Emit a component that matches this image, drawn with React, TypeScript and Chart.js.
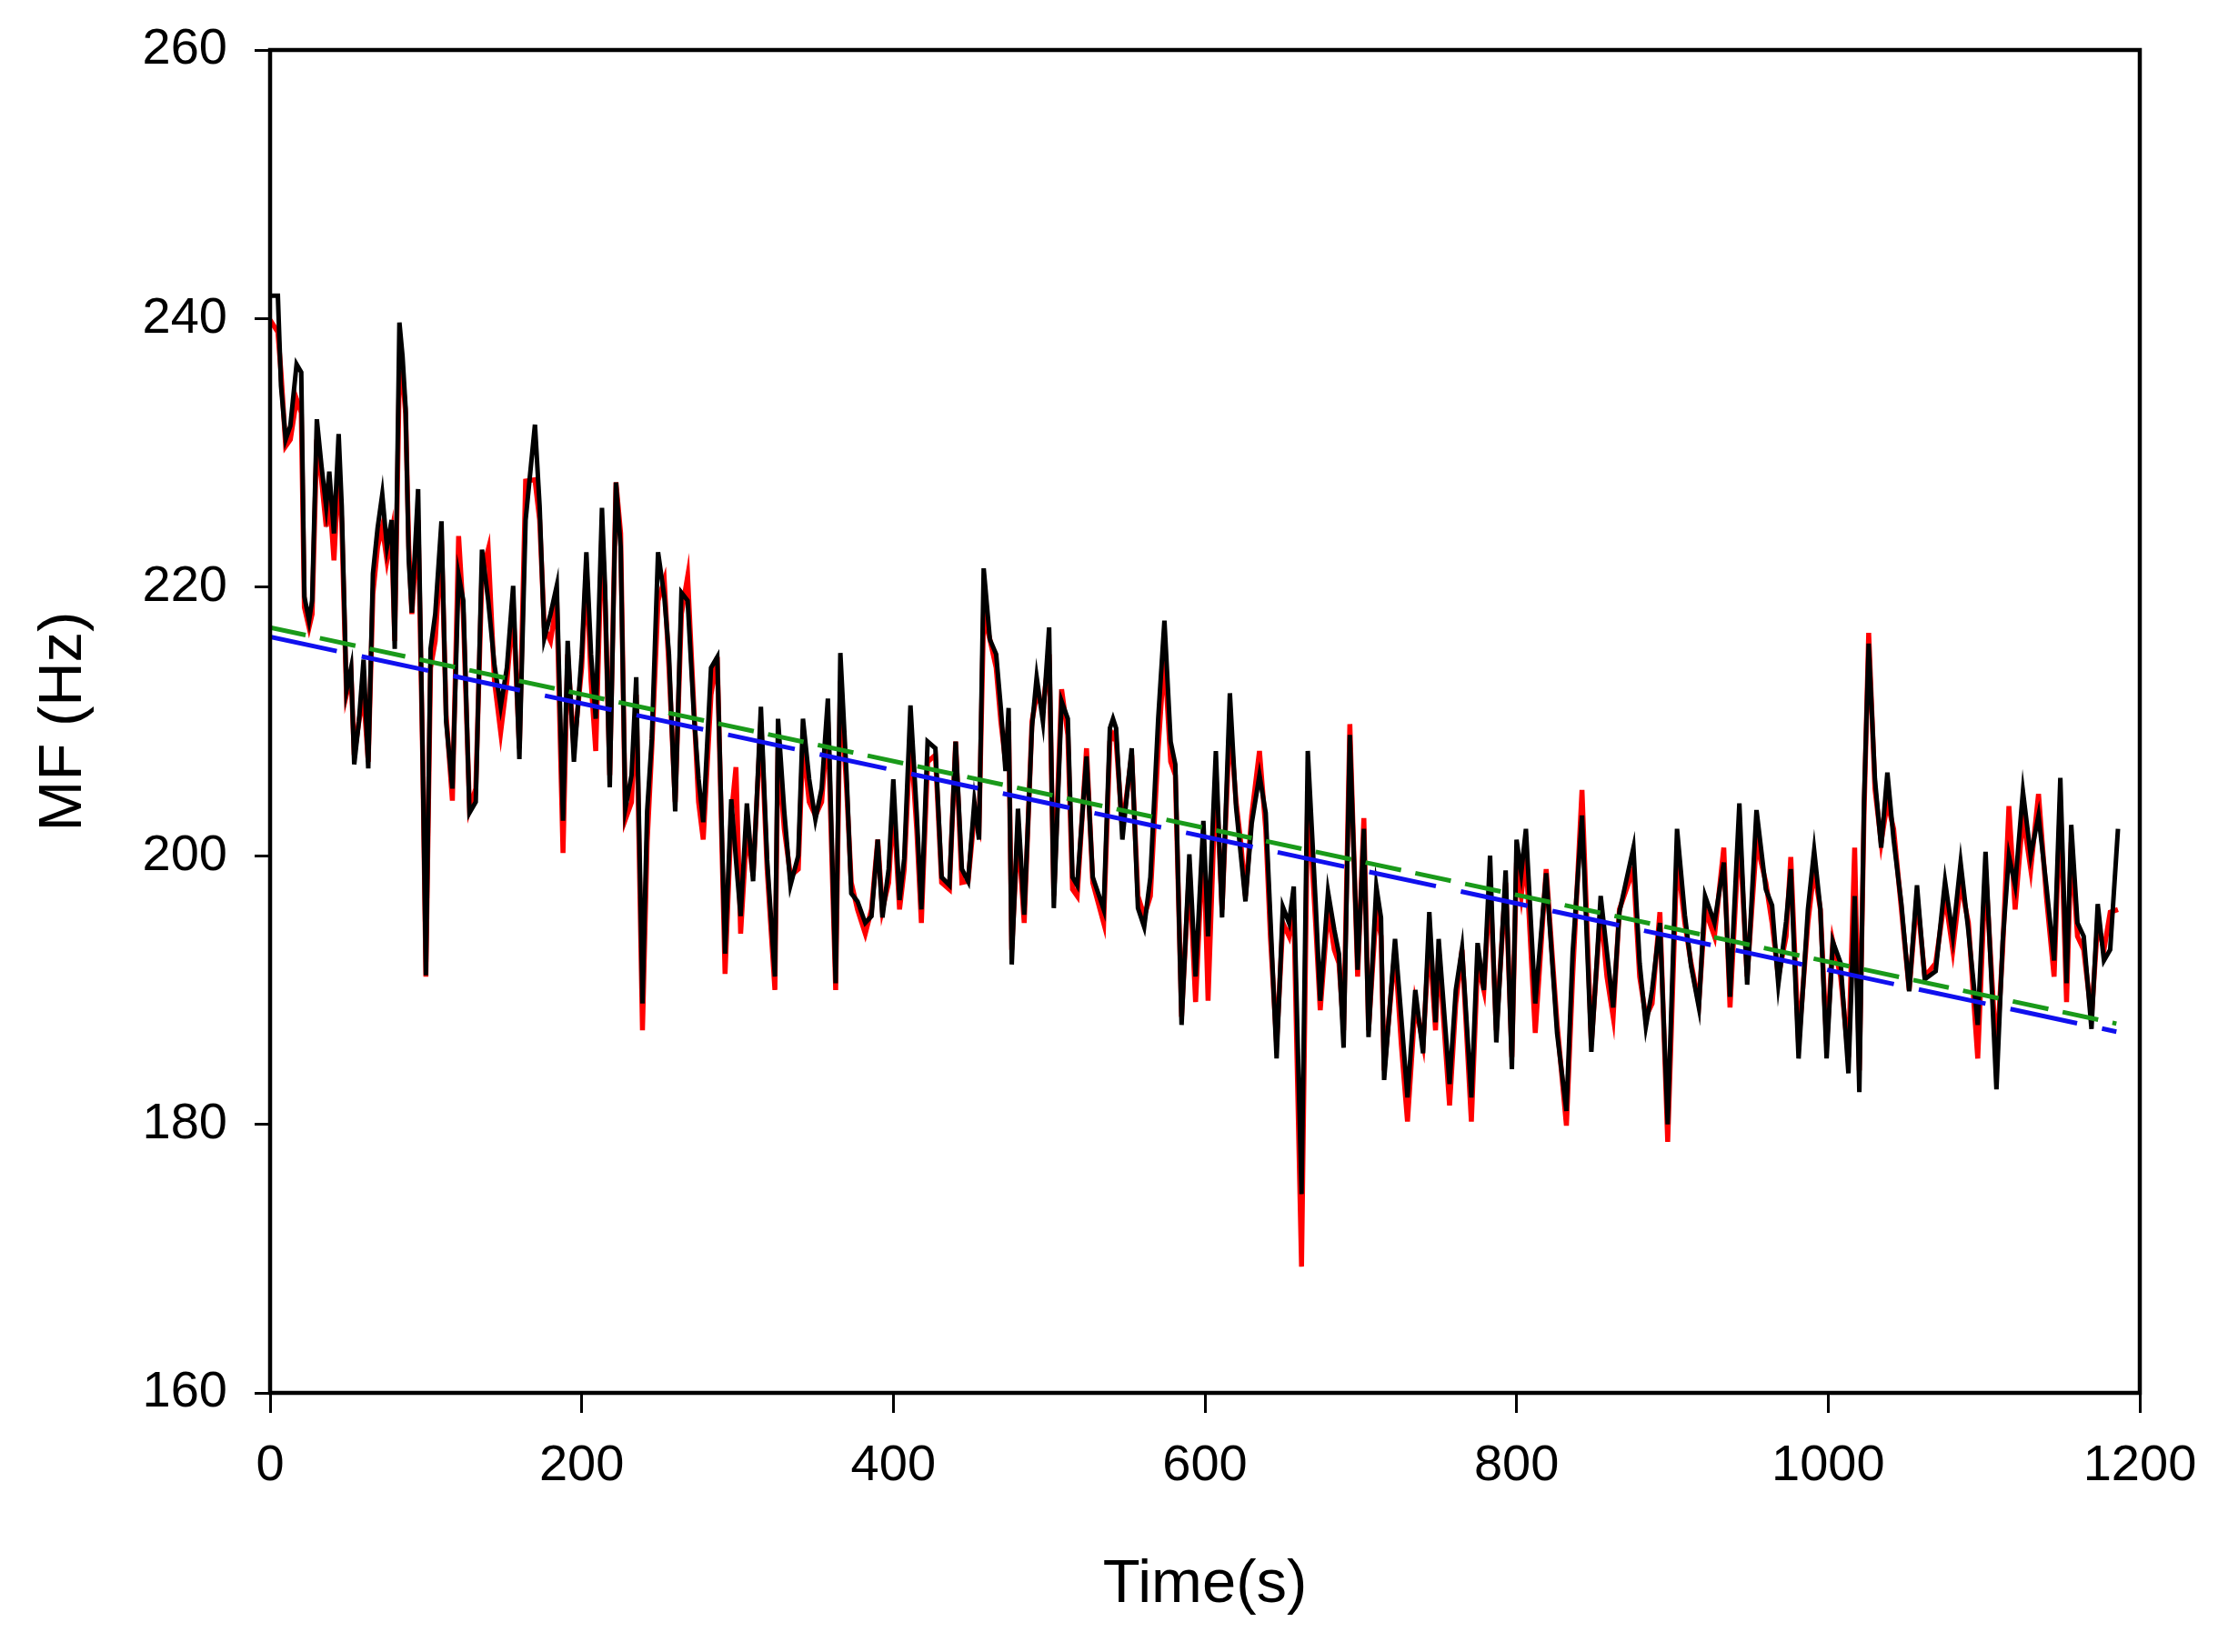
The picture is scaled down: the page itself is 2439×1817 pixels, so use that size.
import React, { useEffect, useRef } from "react";
import { Chart, registerables } from "chart.js";

Chart.register(...registerables);

const times = [
  0, 5, 7, 10, 13, 17, 20, 22, 25, 27, 30, 33, 36, 38, 41, 44, 46, 49, 52, 54,
  57, 60, 63, 66, 69, 72, 75, 78, 80, 83, 85, 87, 89, 91, 95, 98, 100, 103, 106, 110,
  113, 117, 121, 124, 128, 132, 136, 140, 144, 148, 152, 156, 160, 164, 170, 173, 176, 180, 184, 188,
  191, 195, 200, 203, 206, 209, 213, 215, 218, 222, 225, 228, 232, 235, 239, 242, 245, 249, 253, 256,
  260, 264, 268, 272, 275, 278, 283, 287, 292, 296, 299, 302, 306, 310, 315, 319, 324, 326, 330, 334,
  339, 342, 346, 350, 354, 358, 363, 366, 370, 373, 377, 382, 386, 390, 393, 397, 400, 404, 407, 411,
  415, 418, 422, 427, 431, 436, 440, 444, 448, 452, 455, 458, 462, 466, 469, 472, 474, 476, 480, 484,
  489, 492, 496, 500, 503, 508, 512, 515, 518, 524, 528, 535, 539, 541, 543, 547, 553, 557, 561, 565,
  570, 574, 578, 581, 585, 590, 594, 599, 602, 607, 611, 616, 620, 623, 626, 630, 635, 639, 642, 646,
  650, 654, 657, 662, 666, 671, 674, 679, 683, 686, 689, 693, 698, 702, 705, 710, 713, 715, 722, 726,
  730, 735, 740, 744, 748, 750, 757, 761, 765, 771, 775, 779, 783, 787, 793, 797, 800, 803, 806, 812,
  819, 826, 832, 836, 842, 848, 854, 858, 862, 866, 875, 879, 883, 887, 892, 897, 903, 908, 912, 917,
  921, 927, 933, 937, 943, 948, 954, 960, 964, 968, 973, 976, 981, 987, 991, 995, 999, 1003, 1008, 1013,
  1017, 1020, 1023, 1026, 1030, 1034, 1038, 1042, 1047, 1052, 1057, 1062, 1069, 1075, 1080, 1085, 1090, 1096, 1101, 1108,
  1112, 1116, 1120, 1125, 1130, 1135, 1140, 1145, 1149, 1153, 1156, 1160, 1164, 1169, 1173, 1177, 1181, 1186,
];

const blackMF = [
  241.7, 241.7, 235, 231, 232, 236.6, 236, 219.3, 217.5, 219, 232.5, 229, 226, 228.6, 224, 231.4, 226, 212.3, 214, 206.8,
  210, 214.6, 206.5, 221, 224.4, 226.9, 223, 225, 215.4, 239.7, 237.2, 233.3, 222, 218.1, 227.3, 206.8, 191.1, 215.4, 218, 224.9,
  210, 205, 220.9, 219, 203.2, 204, 222.8, 219, 214.2, 211.1, 214, 220.1, 207.2, 225, 232.1, 226, 216.2, 218, 220.1, 202.6,
  216, 207, 215, 222.6, 215, 210.2, 225.9, 220, 205.1, 227.8, 223, 203.5, 206, 213.3, 189, 203.3, 208.7, 222.6, 219.3, 215,
  203.3, 219.6, 219, 210.5, 205.7, 202.5, 214, 214.8, 192.7, 204.2, 199.7, 195.5, 203.9, 198.1, 211.1, 199.7, 191, 210.2, 203.3, 197.8,
  200, 210.2, 205.7, 202.7, 205, 211.7, 190.5, 215.1, 206, 197.2, 196.6, 195, 195.5, 201.2, 195.4, 199, 205.7, 196.7, 199.8, 211.2,
  203.2, 196, 208.5, 208, 198.4, 197.8, 208.5, 199, 198.1, 204, 201.2, 221.4, 216.1, 215, 211, 206.3, 211, 191.9, 203.5, 195.6,
  209.6, 213.3, 210, 217, 196.1, 211.5, 210.2, 198.4, 197.8, 207.4, 198.4, 196, 209.5, 210.2, 209.5, 201.2, 208, 196.1, 194.7, 198.4,
  210.2, 217.5, 208.5, 206.8, 187.4, 200.1, 191, 202.6, 194, 207.8, 195.4, 212.1, 203.6, 200.1, 196.6, 202.4, 206, 203.2, 195.4, 184.9,
  196.2, 195, 197.7, 174.8, 207.8, 196.6, 189.2, 197.3, 194.5, 192.7, 185.7, 209, 191.5, 202, 186.5, 197.7, 195.4, 183.3, 193.8, 188,
  182, 190, 185.3, 195.8, 187.6, 193.8, 183, 190, 193.1, 182, 193.5, 190, 200, 186.1, 198.9, 184.1, 201.2, 198.7, 202, 189,
  198.7, 186.8, 181, 192.8, 203, 185.4, 197, 192.8, 188.7, 195.8, 200.6, 192, 187.3, 190, 195, 180, 202, 195.6, 191.8, 188.7,
  197, 195, 199.5, 189.5, 203.9, 190.4, 203.4, 197.5, 196.3, 190.4, 195.1, 199, 184.9, 196, 200.4, 196, 184.9, 193.6, 192, 183.8,
  197, 182.4, 204, 215.8, 205.7, 200.6, 206.2, 201.2, 196.4, 189.9, 197.8, 190.8, 191.4, 198.1, 194, 199.5, 194.4, 187.4, 200.3, 182.6,
  193.6, 200, 197.8, 204.8, 200, 203, 197.8, 192.2, 205.8, 190.5, 202.3, 195, 194, 187.1, 196.4, 192.2, 193, 202,
];

const redMF = [
  239.9, 239, 236, 230.5, 231, 234, 233, 218.5, 217, 218, 231, 228, 224.5, 227, 222, 229, 224.7, 212, 213.5, 207.5,
  210, 212, 207, 219.5, 223, 224.5, 222, 224, 216, 236, 235.8, 232.9, 223, 218, 225, 207, 191, 214, 216, 223.5,
  210.5, 204.1, 223.8, 218, 203.5, 205, 221, 222.8, 213, 209.2, 213, 218.5, 208, 227.9, 228, 225, 217, 216, 219, 200.2,
  215, 208, 214, 221.5, 213, 207.8, 224, 219, 206, 227.8, 224, 202.7, 204, 212, 187, 201, 208, 219, 220.5, 214,
  204, 218, 220.8, 211, 204, 201.2, 212, 214.8, 191.2, 203, 206.6, 194.2, 202, 198.5, 210, 199, 190, 208, 202, 198.5,
  199, 208.5, 204, 203, 204, 210, 190, 213, 205, 198, 196, 194.2, 196, 201.2, 196, 198, 204, 196, 199, 209,
  202, 195, 207, 207.5, 198, 197.5, 208.5, 198, 198.1, 203, 202, 218, 216.1, 214, 210, 207, 210, 193, 202, 195,
  210, 212, 211, 215, 197, 212.4, 209, 197.5, 197, 208, 198, 195, 208.5, 209, 208.5, 202, 207.5, 197, 195.5, 197,
  208, 215, 207, 206, 188, 199, 189.1, 201.6, 189.2, 206, 196, 210, 204, 201, 197, 203, 207.8, 202, 194, 186,
  195, 194, 196, 169.4, 205, 195, 188.5, 196, 193, 192, 187, 209.8, 191, 202.8, 187, 196, 194, 184, 193, 186,
  180.2, 189, 186, 194, 187, 193, 181.4, 189, 193, 180.2, 192, 190, 198, 187, 198, 185, 199.5, 197, 200, 186.8,
  199, 187.5, 179.9, 191, 204.9, 186, 196, 191, 188, 196, 199, 191, 188, 189, 195.8, 178.7, 200, 195, 192, 189,
  196, 194, 200.6, 188.7, 202, 191, 201, 198, 195, 191, 194, 199.9, 186, 195, 199, 196, 186, 193.6, 191, 185,
  200.6, 184, 203, 216.6, 205, 201, 204, 202, 196, 190, 197, 191, 192, 197, 193, 198, 195, 184.9, 199, 185,
  193, 203.7, 196, 203, 199, 204.6, 197, 191, 204, 189.1, 201, 194, 193, 188, 195, 193, 195.8, 196,
];

const fitTimes = [0, 1185];
const greenFit = [217, 187.5];
const blueFit = [216.3, 186.9];

const xTickStep = 200;
const yTickStep = 20;

const FONT = "'Liberation Sans', Arial, Helvetica, sans-serif";

const framePlugin = {
  id: "frame",
  afterDraw(chart: any) {
    const { ctx, chartArea } = chart;
    ctx.save();
    ctx.strokeStyle = "#000";
    ctx.lineWidth = 4.5;
    ctx.strokeRect(chartArea.left, chartArea.top, chartArea.right - chartArea.left, chartArea.bottom - chartArea.top);
    ctx.restore();
  },
};

export default function App() {
  const ref = useRef<HTMLCanvasElement | null>(null);

  useEffect(() => {
    document.body.style.margin = "0";
    const canvas = ref.current;
    if (!canvas) return;
    const toXY = (xs: number[], ys: number[]) => xs.map((x, i) => ({ x, y: ys[i] }));
    const chart = new Chart(canvas, {
      type: "line",
      data: {
        datasets: [
          {
            label: "fit2",
            data: toXY(fitTimes, greenFit),
            borderColor: "#1a9a1a",
            borderWidth: 5,
            borderDash: [40, 16],
            pointRadius: 0,
          },
          {
            label: "fit1",
            data: toXY(fitTimes, blueFit),
            borderColor: "#1010ee",
            borderWidth: 5,
            borderDash: [75, 28],
            pointRadius: 0,
          },
          {
            label: "MF black",
            data: toXY(times, blackMF),
            borderColor: "#000",
            borderWidth: 5,
            pointRadius: 0,
            tension: 0,
          },
          {
            label: "MF red",
            data: toXY(times, redMF),
            borderColor: "#ff0000",
            borderWidth: 5.5,
            pointRadius: 0,
            tension: 0,
          },
        ],
      },
      options: {
        animation: false,
        responsive: false,
        devicePixelRatio: 1,
        layout: { padding: { top: 55, right: 86, left: 0, bottom: 0 } },
        plugins: { legend: { display: false }, tooltip: { enabled: false } },
        scales: {
          x: {
            type: "linear",
            min: 0,
            max: 1200,
            ticks: {
              stepSize: xTickStep,
              color: "#000",
              font: { family: FONT, size: 56, lineHeight: 1.36 },
              padding: 20,
              maxRotation: 0,
              callback: (v: any) => String(v),
            },
            grid: { drawOnChartArea: false, drawTicks: true, tickLength: 22, color: "#000", lineWidth: 3 },
            border: { display: false },
            title: { display: true, text: "Time(s)", color: "#000", font: { family: FONT, size: 67 }, padding: { top: 0, bottom: 33 } },
            afterFit: (s: any) => { s.height = 285; },
          },
          y: {
            type: "linear",
            min: 160,
            max: 260,
            ticks: {
              stepSize: yTickStep,
              color: "#000",
              font: { family: FONT, size: 56, lineHeight: 0.8 },
              padding: 30,
              callback: (v: any) => String(v),
            },
            grid: { drawOnChartArea: false, drawTicks: true, tickLength: 17, color: "#000", lineWidth: 3 },
            border: { display: false },
            title: { display: true, text: "MF (Hz)", color: "#000", font: { family: FONT, size: 67 }, padding: { top: 30, bottom: 0 } },
            afterFit: (s: any) => { s.width = 297; },
          },
        },
      },
      plugins: [framePlugin],
    });
    return () => chart.destroy();
  }, []);

  return (
    <div style={{ width: 2439, height: 1817 }}>
      <canvas ref={ref} width={2439} height={1817} style={{ width: 2439, height: 1817, display: "block" }} />
    </div>
  );
}
